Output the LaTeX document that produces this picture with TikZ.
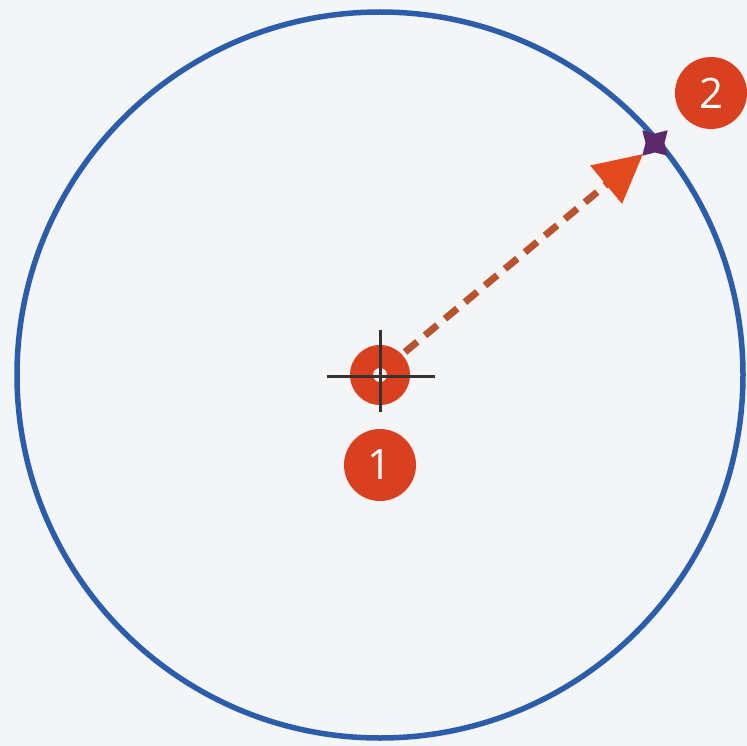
\documentclass[tikz,border=0pt]{standalone}
\usepackage{fontspec}
\setmainfont{Open Sans}
\usetikzlibrary{shapes.geometric,arrows.meta}
\definecolor{bg}{HTML}{F3F5F7}
\definecolor{ringblue}{HTML}{2B5DAA}
\definecolor{badgered}{HTML}{D9401F}
\definecolor{dashbrown}{HTML}{B9522F}
\definecolor{tipred}{HTML}{E04A1E}
\definecolor{markpurple}{HTML}{5B2A6E}
\tikzset{
  badge/.style={circle, fill=badgered, minimum size=72pt, inner sep=0pt, text=white, font=\fontsize{42}{42}\selectfont},
  ring/.style={draw=ringblue, line width=5.5pt},
  cross/.style={draw=black!80, line width=3pt},
  pointer/.style={draw=dashbrown, line width=7pt, dash pattern=on 16pt off 10pt, -{Triangle[length=48pt,width=48pt,fill=tipred,color=tipred]}}
}
\begin{document}
\begin{tikzpicture}[x=1pt,y=-1pt]
\useasboundingbox[fill=bg] (0,0) rectangle (747,746);
\coordinate (c) at (380,375);
\draw[ring] (c) circle[radius=363];
\node[circle, fill=badgered, minimum size=60pt, inner sep=0pt] (dot) at (c) {};
\node[circle, fill=white!90!badgered, minimum size=14pt, inner sep=0pt] (hole) at (c) {};
\coordinate (hl) at (327,376);
\coordinate (hr) at (435,376);
\coordinate (vt) at (380,330);
\coordinate (vb) at (380,412);
\draw[cross] (hl) -- (hr);
\draw[cross] (vt) -- (vb);
\node[star, star points=4, star point ratio=1.9, fill=markpurple, minimum size=36pt, inner sep=0pt, rotate=45] (p) at (655,143) {};
\coordinate (s) at (405,352);
\coordinate (t) at (643,154);
\draw[pointer] (s) -- (t);
\node[badge] (b1) at (380,465) {1};
\node[badge] (b2) at (711,93) {2};
\end{tikzpicture}
\end{document}
